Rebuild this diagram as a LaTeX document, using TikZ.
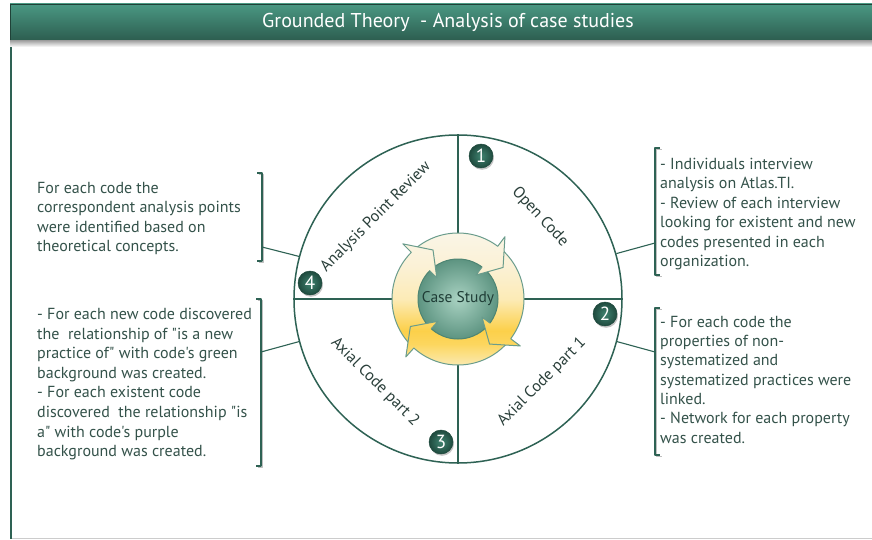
\documentclass[tikz,border=0pt]{standalone}
\usepackage{fontspec}
\setmainfont{PT Sans}[Ligatures=TeXOff]
\usetikzlibrary{calc,shadows}
\definecolor{hdrtop}{HTML}{4A9883}
\definecolor{hdrbot}{HTML}{2D5E50}
\definecolor{lineg}{HTML}{2E6254}
\definecolor{txt}{HTML}{34524A}
\definecolor{lbltxt}{HTML}{2A3F3A}
\definecolor{rb}{HTML}{FBEAB0}
\definecolor{ry1}{HTML}{FCD65E}
\definecolor{ry2}{HTML}{FCD04A}
\definecolor{rm}{HTML}{FCEBB6}
\definecolor{rt1}{HTML}{FBF1D5}
\definecolor{rt}{HTML}{FAF5E6}
\definecolor{ringline}{HTML}{6A9C8C}
\definecolor{gin}{HTML}{A9D2C2}
\definecolor{gout}{HTML}{5D9481}
\definecolor{gline}{HTML}{4E8573}
\definecolor{casetxt}{HTML}{1F3D36}
\definecolor{badgein}{HTML}{3F8370}
\definecolor{badgeout}{HTML}{1F4A3E}
\pgfdeclareverticalshading{ringshade}{100bp}{color(0bp)=(rb); color(25bp)=(rb); color(33bp)=(ry1); color(38bp)=(ry2); color(50bp)=(rm); color(62bp)=(rt1); color(75bp)=(rt); color(100bp)=(rt)}
\tikzset{
  desc/.style={anchor=base west, align=left, inner sep=0pt, text=txt, font=\fontsize{16}{19.5}\selectfont},
  lbl/.style={inner sep=0pt, text=lbltxt, font=\fontsize{16}{18}\selectfont},
  brk/.style={draw=lineg, line width=1.1pt},
  brkshadow/.style={draw=black!25, line width=1.6pt},
  conn/.style={draw=lineg, line width=1.1pt},
  badge/.style={circle, minimum size=24pt, inner sep=0pt, text=white, font=\fontsize{19}{19}\selectfont,
    inner color=badgein, outer color=badgeout, draw=badgeout, line width=.5pt,
    drop shadow={shadow xshift=1pt, shadow yshift=-1.8pt, opacity=.45}},
  ringedge/.style={draw=ringline, line width=1pt}
}
\begin{document}
\begin{tikzpicture}[x=1pt,y=1pt,line join=round]
\useasboundingbox (0,0) rectangle (872,-540);
\fill[white] (0,0) rectangle (872,-540);
% frame
\draw[black!20, line width=1pt] (11,-538.5) -- (872,-538.5);
\draw[lineg, line width=1.5pt] (11,-40) -- (11,-538.5);
% header
\shade[top color=black!45, bottom color=white] (10,-39) rectangle (872,-47);
\shade[top color=hdrtop, bottom color=hdrbot] (10,-4) rectangle (872,-40);
\draw[hdrbot!70!black, line width=.8pt] (10,-40) -- (10,-4) -- (872,-4);
\node[text=white, font=\fontsize{20}{22}\selectfont] (title) at (448,-22) {Grounded Theory\ \ - Analysis of case studies};
% big circle and cross
\node[circle, draw=lineg, line width=1.5pt, minimum size=328pt, inner sep=0pt] (big) at (458,-299) {};
\draw[lineg, line width=1.5pt] (big.north) -- (big.south);
\draw[lineg, line width=1.5pt] (big.west) -- (big.east);
% ring of arrows
\begin{scope}[shift={(458,-299)}]
  \shade[shading=ringshade] (0,0) circle[radius=66]
    \foreach \a in {53,-37,228,135} { (\a:30) -- (\a-18:55) -- (\a:78) -- cycle };
  \begin{scope}
    \clip (-300,-300) -- (300,-300) -- (300,300) -- (-300,300) -- cycle
      \foreach \a in {53,-37,228,135} { (\a:78) -- (\a-18:55) -- (\a:30) -- cycle };
    \draw[ringedge] (0,0) circle[radius=66];
    \shade[inner color=gin, outer color=gout] (0,0) circle[radius=40];
    \draw[draw=gline, line width=1pt] (0,0) circle[radius=40];
  \end{scope}
  \foreach \a in {53,-37,228,135} {
    \draw[ringedge] (\a:66) -- (\a:78) -- (\a-18:55) -- (\a:30) -- (\a:40);
  }
\end{scope}
\node[text=casetxt, font=\fontsize{15.5}{17}\selectfont] (cs) at (458,-299) {Case Study};
% quadrant labels
\node[lbl, rotate=-47] (oc) at (540,-217) {Open Code};
\node[lbl, rotate=45] (apr) at (376,-217) {Analysis Point Review};
\node[lbl, rotate=45] (ac1) at (542,-382) {Axial Code part 1};
\node[lbl, rotate=-45] (ac2) at (375,-382) {Axial Code part 2};
% badges
\node[badge] (n1) at (481,-156) {1};
\node[badge] (n2) at (605,-314) {2};
\node[badge] (n3) at (441,-442) {3};
\node[badge] (n4) at (310,-283) {4};
% descriptions (anchored at the baseline of their last line)
\node[desc] (t4) at (37,-251.7) {For each code the\\correspondent analysis points\\were identified based on\\theoretical concepts.};
\node[desc, font=\fontsize{16}{19.6}\selectfont] (t3) at (37,-456.7) {- For each new code discovered\\the\ \ relationship of "is a new\\practice of" with code's green\\background was created.\\- For each existent code\\discovered\ \ the relationship "is\\a" with code's purple\\background was created.};
\node[desc] (t1) at (660,-266.7) {- Individuals interview\\analysis on Atlas.TI.\\- Review of each interview\\looking for existent and new\\codes presented in each\\organization.};
\node[desc, font=\fontsize{16}{19.35}\selectfont] (t2) at (660,-443.3) {- For each code the\\properties of non-\\systematized and\\systematized practices were\\linked.\\- Network for each property\\was created.};
% brackets
\coordinate (b4t) at (262,-173); \coordinate (b4b) at (262,-261); \coordinate (b4m) at (262,-247);
\coordinate (b3t) at (261,-299); \coordinate (b3b) at (261,-466); \coordinate (b3m) at (261,-352);
\coordinate (b1t) at (655,-148); \coordinate (b1b) at (655,-275); \coordinate (b1m) at (655,-243);
\coordinate (b2t) at (655,-308); \coordinate (b2b) at (655,-455); \coordinate (b2m) at (655,-352);
\foreach \b in {b4,b3} {
  \draw[brkshadow] ($(\b t)+(-3.5,-1.5)$) -- ($(\b t)+(1.5,-1.5)$) -- ($(\b b)+(1.5,-1.5)$) -- ($(\b b)+(-3.5,-1.5)$);
  \draw[brk] ($(\b t)+(-5,0)$) -- (\b t) -- (\b b) -- ++(-5,0);
}
\foreach \b in {b1,b2} {
  \draw[brkshadow] ($(\b t)+(6.5,-1.5)$) -- ($(\b t)+(1.5,-1.5)$) -- ($(\b b)+(1.5,-1.5)$) -- ($(\b b)+(6.5,-1.5)$);
  \draw[brk] ($(\b t)+(5,0)$) -- (\b t) -- (\b b) -- ++(5,0);
}
% connectors
\draw[conn] (b4m) -- (big.165.5);
\draw[conn] (b3m) -- (big.195.2);
\draw[conn] (b1m) -- (big.16.1);
\draw[conn] (b2m) -- (big.-15);
\end{tikzpicture}
\end{document}
